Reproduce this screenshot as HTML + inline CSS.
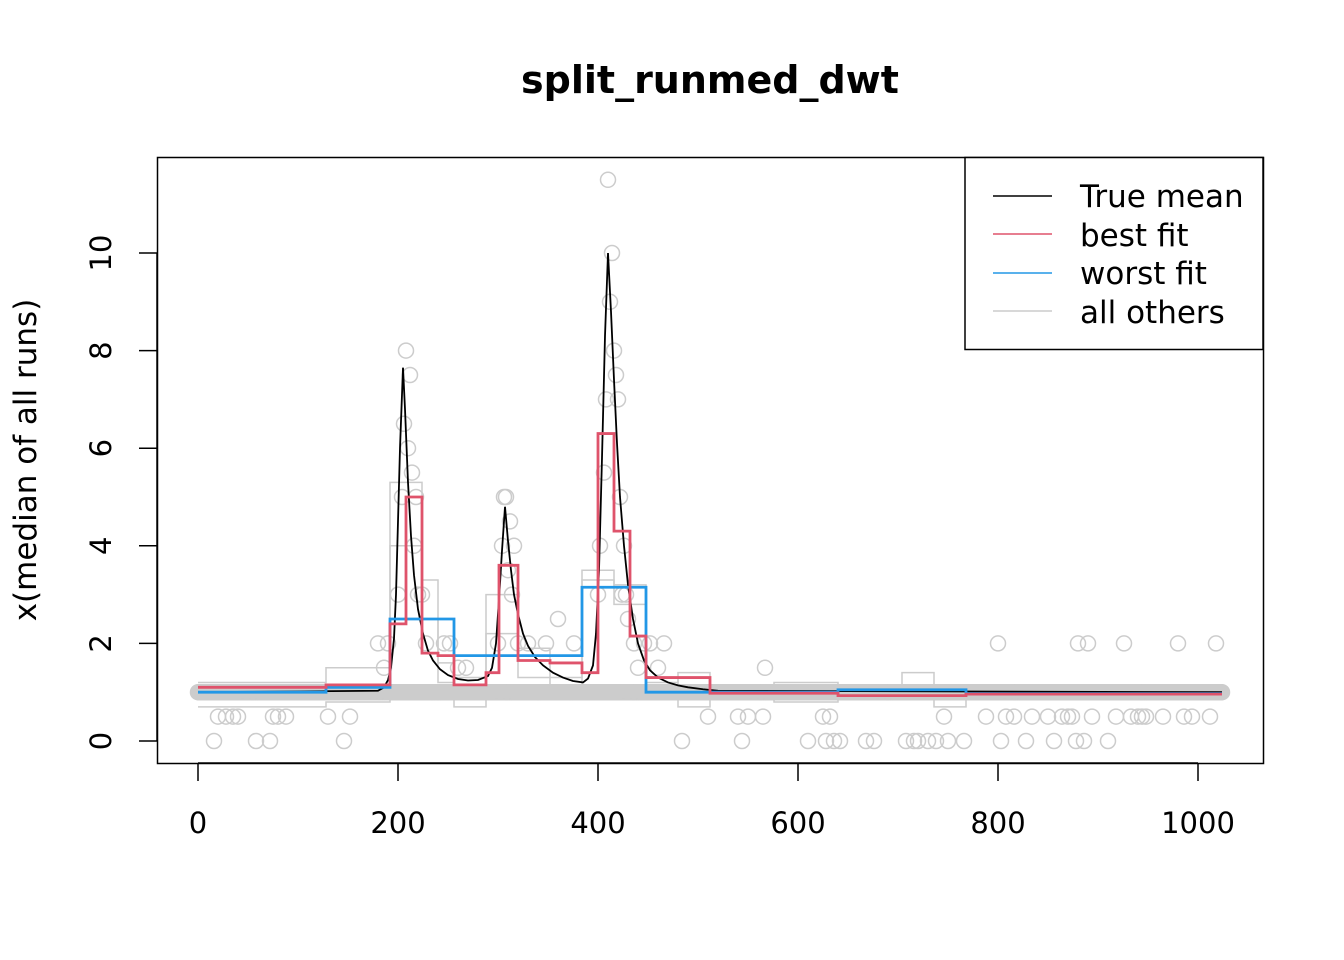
<!DOCTYPE html>
<html><head><meta charset="utf-8"><style>
body{margin:0;background:#fff}
svg{display:block;font-family:"DejaVu Sans","Liberation Sans",sans-serif}
</style></head><body>
<svg id="chart" width="1344" height="960" xmlns="http://www.w3.org/2000/svg">
<rect width="1344" height="960" fill="#fff"/>
<text x="710" y="93" text-anchor="middle" font-size="38" font-weight="bold">split_runmed_dwt</text>
<g id="plot"></g>
<rect x="157.5" y="157.5" width="1106" height="606" fill="none" stroke="#000" stroke-width="1.5"/>
<g id="axes"></g>
<text transform="translate(36,460) rotate(-90)" text-anchor="middle" font-size="31">x(median of all runs)</text>
<g>
<rect x="965" y="157.5" width="298" height="192" fill="#fff" stroke="#000" stroke-width="1.5"/>
<line x1="993" x2="1052" y1="196" y2="196" stroke="#000" stroke-width="1.5"/>
<text x="1080" y="207" font-size="31">True mean</text>
<line x1="993" x2="1052" y1="234" y2="234" stroke="#df536b" stroke-width="1.5"/>
<text x="1080" y="246" font-size="31">best fit</text>
<line x1="993" x2="1052" y1="273" y2="273" stroke="#2297e6" stroke-width="1.5"/>
<text x="1080" y="284" font-size="31">worst fit</text>
<line x1="993" x2="1052" y1="311" y2="311" stroke="#cccccc" stroke-width="1.5"/>
<text x="1080" y="323" font-size="31">all others</text>
</g>
</svg>
<script>
const xTicks=[0,200,400,600,800,1000];
const yTicks=[0,2,4,6,8,10];
const trueX=[0,180,186,190,193,196,198,200,202,205,207,210,213,216,220,225,230,235,242,250,260,270,280,290,294,298,301,304,307,310,313,316,320,325,330,337,345,355,365,375,385,390,395,398,401,404,407,410,413,416,419,422,426,430,435,440,446,452,460,470,480,490,505,520,1024];
const trueY=[1,1.03,1.1,1.25,1.5,2.1,3,4.5,6,7.65,6.8,5.3,4.2,3.4,2.7,2.2,1.85,1.65,1.47,1.35,1.27,1.24,1.25,1.33,1.5,2,2.9,3.9,4.8,4.1,3.5,3,2.6,2.2,1.95,1.72,1.55,1.4,1.3,1.23,1.2,1.28,1.55,2.2,3.5,5.8,8.3,10,8.8,7.4,6.1,5,4,3.2,2.5,2,1.65,1.45,1.3,1.2,1.14,1.1,1.06,1.03,1];
const bestBreaks=[0,128,192,208,224,240,256,288,301,320,352,384,400,416,432,448,512,640,768,1024];
const bestVals=[1.1,1.15,2.4,5.0,1.8,1.75,1.15,1.4,3.6,1.65,1.6,1.4,6.3,4.3,2.15,1.3,0.98,0.93,0.96];
const worstBreaks=[0,128,192,256,384,448,512,640,768,1024];
const worstVals=[1.0,1.1,2.5,1.75,3.15,1.0,1.0,1.05,0.97];
const otherBreaks=[0,128,192,224,240,256,288,320,352,384,416,448,480,512,576,640,704,736,768,1024];
const other1=[1.2,1.5,5.3,3.3,1.2,1.3,3.0,1.3,1.0,3.5,3.2,1.3,0.7,1.0,1.2,1.0,1.4,0.7,1.0];
const other2=[0.7,0.8,4.0,2.5,1.6,0.7,2.2,1.9,1.3,3.3,2.8,1.2,1.4,0.9,0.8,0.9,1.0,1.0,1.0];
const ptX=[20,28,35,40,75,80,88,130,152,180,186,190,16,58,72,146,200,204,206,208,210,212,214,216,218,220,224,228,234,240,246,252,260,268,300,304,306,308,310,312,314,316,320,330,340,348,360,372,376,400,402,406,408,410,412,414,416,418,420,422,424,426,428,430,436,440,446,452,460,466,484,510,540,544,550,565,567,610,625,628,632,636,642,668,676,708,716,720,730,738,746,750,766,788,800,803,808,816,828,834,850,856,864,870,874,878,880,886,890,894,910,918,926,933,940,944,948,965,980,986,994,1012,1018];
const ptY=[0.5,0.5,0.5,0.5,0.5,0.5,0.5,0.5,0.5,2,1.5,2,0,0,0,0,3,5,6.5,8,6,7.5,5.5,4,5,3,3,2,1,1,2,2,1.5,1.5,2,4,5,5,3.5,4.5,3,4,2,2,1,2,2.5,1,2,3,4,5.5,7,11.5,9,10,8,7.5,7,5,3,4,3,2.5,2,1.5,2,2,1.5,2,0,0.5,0.5,0,0.5,0.5,1.5,0,0.5,0,0.5,0,0,0,0,0,0,0,0,0,0.5,0,0,0.5,2,0,0.5,0.5,0,0.5,0.5,0,0.5,0.5,0.5,0,2,0,2,0.5,0,0.5,2,0.5,0.5,0.5,0.5,0.5,2,0.5,0.5,0.5,2,0];
const sx=v=>198+v*1.0;
const sy=v=>741-v*48.8;
const NS='http://www.w3.org/2000/svg';
const plot=document.getElementById('plot');
const axes=document.getElementById('axes');
function mk(tag,attrs,parent){const e=document.createElementNS(NS,tag);for(const k in attrs)e.setAttribute(k,attrs[k]);parent.appendChild(e);return e;}
const band=mk('g',{},plot);


for(let x=0;x<=1024;x+=1){mk('circle',{cx:sx(x),cy:sy(1),r:7.5,fill:'none',stroke:'#cccccc','stroke-width':1.5},band);}
const pts=mk('g',{},plot);


ptX.forEach((x,i)=>{const c=mk('circle',{cx:sx(x),cy:sy(ptY[i]),r:7.5,fill:'none',stroke:'#cccccc','stroke-width':1.5},pts);});
function stepPath(br,vals){let d='M'+sx(br[0])+','+sy(vals[0]);for(let i=0;i<vals.length;i++){d+=' L'+sx(br[i])+','+sy(vals[i])+' L'+sx(br[i+1])+','+sy(vals[i]);}return d;}
[other1,other2].forEach((o,i)=>{const p=mk('path',{d:stepPath(otherBreaks,o),fill:'none',stroke:'#cccccc','stroke-width':1.5},plot);});
let td='';trueX.forEach((x,i)=>{td+=(i?' L':'M')+sx(x)+','+sy(trueY[i]);});
const tl=mk('path',{d:td,fill:'none',stroke:'#000','stroke-width':1.8},plot);


const wl=mk('path',{d:stepPath(worstBreaks,worstVals),fill:'none',stroke:'#2297e6','stroke-width':2.8},plot);


const bl=mk('path',{d:stepPath(bestBreaks,bestVals),fill:'none',stroke:'#df536b','stroke-width':2.8},plot);


mk('line',{x1:sx(xTicks[0]),x2:sx(xTicks[xTicks.length-1]),y1:763,y2:763,stroke:'#000','stroke-width':1.5},axes);
xTicks.forEach(t=>{mk('line',{x1:sx(t),x2:sx(t),y1:763,y2:781,stroke:'#000','stroke-width':1.5},axes);const tx=mk('text',{x:sx(t),y:833,'text-anchor':'middle','font-size':29},axes);tx.textContent=t;});
mk('line',{x1:157,x2:157,y1:sy(yTicks[0]),y2:sy(yTicks[yTicks.length-1]),stroke:'#000','stroke-width':1.5},axes);
yTicks.forEach(t=>{mk('line',{x1:139,x2:157,y1:sy(t),y2:sy(t),stroke:'#000','stroke-width':1.5},axes);const tx=mk('text',{transform:'translate(111,'+sy(t)+') rotate(-90)','text-anchor':'middle','font-size':29},axes);tx.textContent=t;});
</script>
</body></html>
